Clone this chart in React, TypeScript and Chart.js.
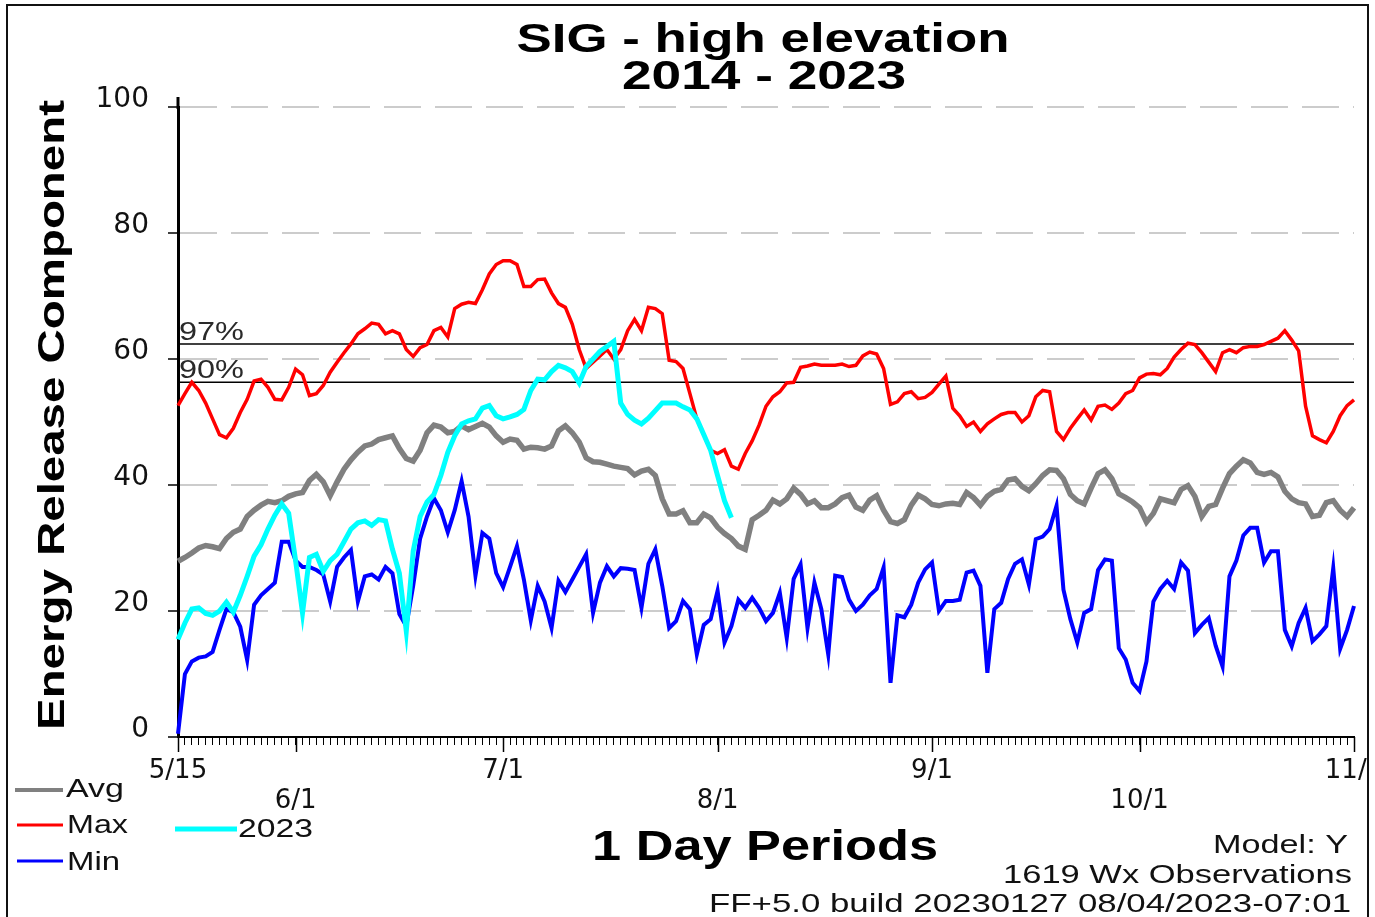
import React, { useEffect, useRef } from 'react';
import { Chart, registerables } from 'chart.js';

Chart.register(...registerables);

// ---------- data ----------
const MONTH_LENGTHS = [31, 30, 31, 31, 30, 31, 30];
const START_MONTH = 5;
const START_DAY = 15;
const N_DAYS = 171;

const TICK_DAYS = [0, 17, 47, 78, 109, 139, 170];
const TICK_LABELS = ['5/15', '6/1', '7/1', '8/1', '9/1', '10/1', '11/1'];
const Y_TICK_STEP = 20;
const Y_MIN = 0;
const Y_MAX = 100;

const P97 = 62.4;
const P90 = 56.3;

const AVG = [
  27.9, 28.5, 29.2, 30.0, 30.4, 30.2, 29.9, 31.5, 32.5, 33.0,
  35.0, 36.0, 36.8, 37.4, 37.2, 37.5, 38.2, 38.6, 38.8, 40.7,
  41.7, 40.5, 38.3, 40.5, 42.5, 44.0, 45.2, 46.2, 46.5, 47.2,
  47.5, 47.8, 45.8, 44.2, 43.8, 45.5, 48.3, 49.5, 49.2, 48.3,
  48.5, 49.4, 48.8, 49.3, 49.8, 49.2, 47.8, 46.8, 47.3, 47.1,
  45.7, 46.0, 45.9, 45.7, 46.2, 48.6, 49.4, 48.3, 46.8, 44.3,
  43.7, 43.6, 43.3, 43.0, 42.8, 42.6, 41.6, 42.2, 42.5, 41.5,
  37.8, 35.4, 35.4, 35.9, 34.0, 34.0, 35.4, 34.8, 33.3, 32.3,
  31.5, 30.3, 29.8, 34.5, 35.2, 36.0, 37.6, 37.0, 37.8, 39.5,
  38.5, 37.0, 37.5, 36.4, 36.4, 37.0, 38.0, 38.4, 36.5, 36.0,
  37.6, 38.3, 36.0, 34.2, 33.9, 34.5, 36.8, 38.4, 37.8, 36.9,
  36.7, 37.0, 37.1, 36.9, 38.8, 38.0, 36.8, 38.2, 39.0, 39.3,
  40.8, 41.0, 39.8, 39.1, 40.2, 41.5, 42.4, 42.3, 41.0, 38.5,
  37.5, 37.0, 39.5, 41.8, 42.4, 41.0, 38.6, 38.0, 37.3, 36.4,
  34.1, 35.5, 37.8, 37.5, 37.2, 39.3, 39.9, 38.2, 35.0, 36.6,
  36.9, 39.5, 41.8, 43.0, 44.0, 43.5, 42.0, 41.7, 42.0, 41.3,
  39.0, 37.8, 37.2, 37.0, 35.0, 35.2, 37.2, 37.5, 36.0, 35.0,
  36.4,
];

const MAX = [
  52.6, 54.5, 56.3, 55.0, 53.0, 50.5, 48.0, 47.5, 49.0, 51.5,
  53.6, 56.5, 56.8, 55.5, 53.6, 53.5, 55.5, 58.4, 57.5, 54.2,
  54.5, 55.8, 57.9, 59.5, 61.0, 62.4, 64.0, 64.8, 65.7, 65.5,
  64.0, 64.5, 64.0, 61.5, 60.4, 61.8, 62.3, 64.5, 65.0, 63.5,
  68.0, 68.7, 69.0, 68.8, 71.0, 73.5, 75.0, 75.6, 75.6, 75.0,
  71.5, 71.5, 72.6, 72.7, 70.5, 68.8, 68.2, 65.5, 61.5, 58.5,
  59.5, 60.5, 61.5, 60.0, 61.5, 64.5, 66.3, 64.5, 68.2, 68.0,
  67.2, 59.8, 59.6, 58.5, 54.5, 50.5, 48.0, 45.5, 45.0, 45.6,
  43.0, 42.5, 45.0, 47.0, 49.5, 52.5, 54.0, 54.8, 56.2, 56.3,
  58.7, 58.9, 59.2, 59.0, 59.0, 59.0, 59.2, 58.8, 59.0, 60.5,
  61.1, 60.8, 58.5, 52.8, 53.2, 54.5, 54.8, 53.7, 53.9, 54.7,
  56.0, 57.3, 52.2, 51.0, 49.3, 50.0, 48.5, 49.7, 50.5, 51.2,
  51.5, 51.5, 50.0, 51.0, 54.0, 55.0, 54.8, 48.5, 47.2, 49.0,
  50.5, 51.9, 50.3, 52.5, 52.7, 52.0, 53.0, 54.5, 55.0, 57.0,
  57.6, 57.7, 57.5, 58.5, 60.3, 61.5, 62.5, 62.3, 61.0, 59.5,
  58.0, 61.0, 61.5, 61.0, 61.8, 62.0, 62.0, 62.3, 62.8, 63.3,
  64.5, 63.0, 61.3, 52.5, 47.8, 47.2, 46.7, 48.5, 51.0, 52.6,
  53.5,
];

const MIN = [
  0.5, 10.0, 12.0, 12.6, 12.8, 13.5, 17.0, 20.3, 19.8, 17.5,
  12.2, 21.0, 22.5, 23.5, 24.5, 31.0, 31.0, 28.0, 27.0, 27.0,
  26.5, 25.8, 21.5, 27.0, 28.5, 29.7, 21.5, 25.5, 25.8, 25.0,
  27.0, 26.0, 19.5, 17.6, 24.0, 31.5, 35.0, 37.9, 36.0, 32.5,
  36.0, 40.6, 35.0, 25.6, 32.4, 31.5, 26.0, 23.8, 27.0, 30.3,
  25.0, 18.5, 24.0, 21.5, 17.3, 24.8, 23.0, 25.0, 27.0, 29.0,
  19.7, 24.5, 27.1, 25.5, 26.8, 26.7, 26.5, 20.5, 27.5, 29.8,
  24.0, 17.3, 18.4, 21.6, 20.3, 13.1, 17.8, 18.7, 23.2, 15.0,
  17.6, 21.8, 20.5, 22.1, 20.5, 18.4, 19.7, 22.9, 15.7, 25.1,
  27.4, 17.3, 24.5, 20.3, 13.1, 25.6, 25.4, 21.8, 20.0, 21.0,
  22.5, 23.5, 26.9, 8.6, 19.3, 19.0, 21.0, 24.5, 26.6, 27.7,
  20.0, 21.6, 21.6, 21.8, 26.1, 26.4, 24.0, 10.2, 20.3, 21.3,
  25.1, 27.5, 28.2, 24.2, 31.4, 31.8, 33.0, 36.7, 23.4, 18.7,
  15.0, 19.7, 20.3, 26.5, 28.2, 28.0, 14.1, 12.3, 8.6, 7.3,
  12.0, 21.5, 23.5, 24.8, 23.5, 27.7, 26.4, 16.5, 17.8, 18.9,
  14.5, 11.2, 25.5, 28.0, 32.0, 33.2, 33.2, 27.7, 29.5, 29.5,
  17.0, 14.4, 18.1, 20.5, 15.2, 16.3, 17.6, 26.8, 14.0, 17.0,
  20.8,
];

const Y2023 = [
  15.5, 18.1, 20.3, 20.5, 19.6, 19.3, 20.0, 21.4, 19.8, 22.5,
  25.5, 28.7, 30.5, 33.0, 35.2, 37.0, 35.5, 28.0, 19.7, 28.5,
  29.0, 26.3, 28.0, 29.0, 31.0, 33.0, 34.0, 34.3, 33.6, 34.5,
  34.3, 29.8, 26.0, 16.8, 29.5, 35.0, 37.3, 38.5, 41.5, 45.2,
  47.8, 49.7, 50.2, 50.5, 52.2, 52.6, 51.0, 50.5, 50.8, 51.2,
  52.0, 55.0, 56.8, 56.7, 58.0, 59.0, 58.6, 58.0, 56.2, 58.8,
  60.0, 61.2, 62.0, 62.8, 53.0, 51.2, 50.3, 49.7, 50.6, 51.8,
  53.0, 53.0, 53.0, 52.4, 51.9, 50.5, 48.0, 45.5, 41.5, 37.5,
  34.8,
];

const TITLE_LINES = ['SIG - high elevation', '2014 - 2023'];
const Y_TITLE = 'Energy Release Component';
const X_TITLE = '1 Day Periods';
const FOOTER_LINES = ['Model: Y', '1619 Wx Observations', 'FF+5.0 build 20230127 08/04/2023-07:01'];

// category labels: one per day from 5/15
function buildDayLabels(): string[] {
  const out: string[] = [];
  let m = START_MONTH;
  let d = START_DAY;
  for (let i = 0; i < N_DAYS; i++) {
    out.push(`${m}/${d}`);
    d++;
    if (d > MONTH_LENGTHS[m - START_MONTH]) {
      d = 1;
      m++;
    }
  }
  return out;
}
const DAY_LABELS = buildDayLabels();

// ---------- drawing helpers ----------
const SANS = "'Liberation Sans', Arial, sans-serif";

function fitText(
  ctx: CanvasRenderingContext2D,
  text: string,
  x: number,
  y: number,
  font: string,
  width: number,
  align: 'left' | 'center' | 'right',
  color = '#111'
) {
  ctx.save();
  ctx.font = font;
  ctx.fillStyle = color;
  ctx.textBaseline = 'alphabetic';
  ctx.textAlign = 'left';
  const w = ctx.measureText(text).width;
  const sx = width / w;
  const left = align === 'left' ? x : align === 'center' ? x - width / 2 : x - width;
  ctx.translate(left, y);
  ctx.scale(sx, 1);
  ctx.fillText(text, 0, 0);
  ctx.restore();
}

function line(ctx: CanvasRenderingContext2D, x1: number, y1: number, x2: number, y2: number, color: string, w: number) {
  ctx.save();
  ctx.strokeStyle = color;
  ctx.lineWidth = w;
  ctx.beginPath();
  ctx.moveTo(x1, y1);
  ctx.lineTo(x2, y2);
  ctx.stroke();
  ctx.restore();
}

const decor = {
  id: 'decor',
  beforeDraw(chart: any) {
    const { ctx, width, height } = chart;
    ctx.save();
    ctx.fillStyle = '#ffffff';
    ctx.fillRect(0, 0, width, height);
    ctx.restore();
  },
  beforeDatasetsDraw(chart: any) {
    const { ctx, chartArea } = chart;
    const y = chart.scales.y;
    const y97 = y.getPixelForValue(P97);
    const y90 = y.getPixelForValue(P90);
    line(ctx, chartArea.left, y97, chartArea.right, y97, '#000', 1.5);
    line(ctx, chartArea.left, y90, chartArea.right, y90, '#000', 1.5);
    fitText(ctx, '97%', chartArea.left + 1, y97 - 4, `26px ${SANS}`, 65, 'left', '#2a2a2a');
    fitText(ctx, '90%', chartArea.left + 1, y90 - 4, `26px ${SANS}`, 65, 'left', '#2a2a2a');
  },
  afterDraw(chart: any) {
    const { ctx, chartArea } = chart;
    const xs = chart.scales.x;
    // longer ticks at month labels
    TICK_DAYS.forEach((d) => {
      const px = Math.round(xs.getPixelForValue(d)) + 0.5;
      line(ctx, px, chartArea.bottom, px, chartArea.bottom + 15, '#000', 1.5);
    });
    // y axis extends above the top
    line(ctx, chartArea.left, chartArea.top - 10, chartArea.left, chartArea.top + 2, '#000', 3);

    // titles
    fitText(ctx, TITLE_LINES[0], 763, 52, `bold 40px ${SANS}`, 493, 'center', '#000');
    fitText(ctx, TITLE_LINES[1], 764, 89, `bold 40px ${SANS}`, 284, 'center', '#000');

    // y title (rotated)
    ctx.save();
    ctx.translate(64, 415);
    ctx.rotate(-Math.PI / 2);
    fitText(ctx, Y_TITLE, 0, 0, `bold 37px ${SANS}`, 630, 'center', '#000');
    ctx.restore();

    // x title
    fitText(ctx, X_TITLE, 765, 860, `bold 42px ${SANS}`, 346, 'center', '#000');

    // footer
    fitText(ctx, FOOTER_LINES[0], 1348, 853, `26px ${SANS}`, 135, 'right', '#111');
    fitText(ctx, FOOTER_LINES[1], 1352, 883, `26px ${SANS}`, 349, 'right', '#111');
    fitText(ctx, FOOTER_LINES[2], 1351, 912, `26px ${SANS}`, 642, 'right', '#111');

    // legend
    line(ctx, 15, 790, 63, 790, '#808080', 4);
    fitText(ctx, 'Avg', 66, 797, `26px ${SANS}`, 58, 'left', '#111');
    line(ctx, 17, 825, 63, 825, '#ff0000', 3);
    fitText(ctx, 'Max', 67, 833, `26px ${SANS}`, 61, 'left', '#111');
    line(ctx, 17, 861, 63, 861, '#0000ff', 3);
    fitText(ctx, 'Min', 67, 870, `26px ${SANS}`, 53, 'left', '#111');
    line(ctx, 175, 829, 237, 829, '#00ffff', 5);
    fitText(ctx, '2023', 238, 837, `26px ${SANS}`, 75, 'left', '#111');

    // clip right side and frame
    ctx.save();
    ctx.fillStyle = '#ffffff';
    ctx.fillRect(1369, 0, 10, chart.height);
    ctx.restore();
    ctx.save();
    ctx.strokeStyle = '#111';
    ctx.lineWidth = 2;
    ctx.strokeRect(7, 5, 1361, chart.height + 20);
    ctx.restore();
  },
};

export default function App() {
  const ref = useRef<HTMLCanvasElement | null>(null);

  useEffect(() => {
    if (!ref.current) return;
    const lineDs = (label: string, data: number[], color: string, width: number) => ({
      label,
      data,
      borderColor: color,
      backgroundColor: color,
      borderWidth: width,
      pointRadius: 0,
      pointHoverRadius: 0,
      tension: 0,
      fill: false,
      borderJoinStyle: 'miter' as const,
      borderCapStyle: 'butt' as const,
    });

    const chart = new Chart(ref.current, {
      type: 'line',
      data: {
        labels: DAY_LABELS,
        datasets: [
          lineDs('2023', Y2023, '#00ffff', 5),
          lineDs('Min', MIN, '#0000ff', 4),
          lineDs('Max', MAX, '#ff0000', 3.5),
          lineDs('Avg', AVG, '#808080', 5.5),
        ],
      },
      options: {
        animation: false,
        responsive: false,
        maintainAspectRatio: false,
        devicePixelRatio: 1,
        events: [],
        layout: { padding: { left: 0, top: 107, right: 21, bottom: 0 } },
        plugins: {
          legend: { display: false },
          tooltip: { enabled: false },
          title: { display: false },
        },
        scales: {
          x: {
            type: 'category',
            grid: {
              display: true,
              drawOnChartArea: false,
              drawTicks: true,
              tickLength: 8,
              tickColor: '#000',
              tickWidth: 1,
              color: '#000',
            },
            border: { display: true, color: '#000', width: 2 },
            ticks: {
              autoSkip: false,
              maxRotation: 0,
              minRotation: 0,
              padding: 11,
              color: '#111',
              font: { family: 'DejaVu Sans', size: 26, lineHeight: 1.15 },
              callback: (_v: any, index: number) => {
                const k = TICK_DAYS.indexOf(index);
                if (k < 0) return '';
                return k % 2 === 0 ? TICK_LABELS[k] : ['', TICK_LABELS[k]];
              },
            },
            afterFit: (s: any) => {
              s.height = 180;
              s.paddingLeft = 0;
              s.paddingRight = 0;
            },
          },
          y: {
            min: Y_MIN,
            max: Y_MAX,
            grid: {
              color: (c: any) => (c.tick && c.tick.value === 0 ? 'rgba(0,0,0,0)' : '#cccccc'),
              lineWidth: 2,
              drawTicks: true,
              tickLength: 10,
              tickColor: '#000',
              tickWidth: 1.5,
            },
            border: { display: true, color: '#000', width: 3, dash: [37, 14] },
            ticks: {
              stepSize: Y_TICK_STEP,
              padding: 19,
              color: '#111',
              labelOffset: -7,
              font: { family: 'DejaVu Sans', size: 28 },
            },
            afterFit: (s: any) => {
              s.width = 178;
              s.paddingTop = 0;
              s.paddingBottom = 0;
            },
          },
        },
      },
      plugins: [decor],
    });
    return () => chart.destroy();
  }, []);

  return (
    <div style={{ position: 'absolute', left: 0, top: 0, width: 1375, height: 917, background: '#fff' }}>
      <canvas ref={ref} width={1375} height={917} style={{ display: 'block', width: 1375, height: 917 }} />
    </div>
  );
}
